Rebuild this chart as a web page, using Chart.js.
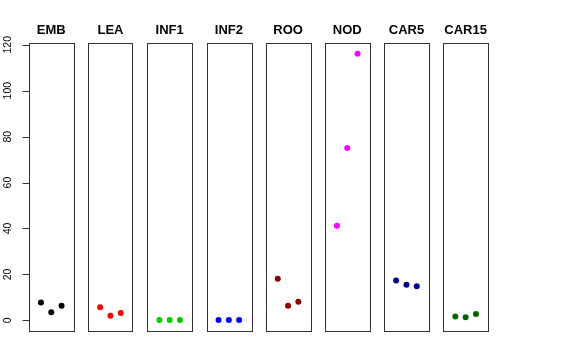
<!DOCTYPE html>
<html>
<head>
<meta charset="utf-8">
<script src="https://cdn.jsdelivr.net/npm/chart.js@4.4.1/dist/chart.umd.min.js"></script>
<style>
  html, body { margin: 0; padding: 0; background: #fff; }
  #wrap { position: relative; width: 576px; height: 360px; }
  #wrap canvas { position: absolute; left: 0; top: 0; }
</style>
</head>
<body>
<div id="wrap"></div>
<script>
// tissue groups, three replicates each
const categories = ['EMB', 'LEA', 'INF1', 'INF2', 'ROO', 'NOD', 'CAR5', 'CAR15'];
const replicates = [1, 2, 3];
const emb = [7.8, 3.5, 6.4];
const lea = [5.7, 2.0, 3.2];
const inf1 = [0.1, 0.1, 0.1];
const inf2 = [0.1, 0.1, 0.1];
const roo = [18.1, 6.4, 8.1];
const nod = [41.2, 75.0, 116.1];
const car5 = [17.4, 15.5, 14.8];
const car15 = [1.7, 1.3, 2.8];
const yTicks = [0, 20, 40, 60, 80, 100, 120];

const seriesValues = [emb, lea, inf1, inf2, roo, nod, car5, car15];
const colors = ['#000000', '#ff0000', '#00cd00', '#0000ff', '#8b0000', '#ff00ff', '#00008b', '#006400'];

// panel layout (px)
const W = 576, H = 360;
const firstLeft = 29, step = 59.2, panelW = 44.5;
const panelTop = 43.3, panelBottom = 331;

// R style 4% padding around data
const yMin = -4.64, yMax = 120.64;
const xMin = -0.16, xMax = 4.16;

const wrap = document.getElementById('wrap');

const boxPlugin = {
  id: 'box',
  afterDraw(chart) {
    const a = chart.chartArea;
    const ctx = chart.ctx;
    ctx.save();
    ctx.strokeStyle = '#333';
    ctx.lineWidth = 1;
    ctx.strokeRect(Math.round(a.left) + 0.5, Math.round(a.top) + 0.5,
      Math.round(a.right - a.left), Math.round(a.bottom - a.top));
    // panel title
    ctx.fillStyle = '#000';
    ctx.font = 'bold 13px "Liberation Sans", Arial, sans-serif';
    ctx.textAlign = 'center';
    ctx.textBaseline = 'alphabetic';
    ctx.fillText(chart.options.plugins.panelTitle, (a.left + a.right) / 2, 34);
    ctx.restore();
  }
};

// y axis with rotated labels, only on the first panel
const yAxisPlugin = {
  id: 'yaxis',
  afterDraw(chart) {
    if (!chart.options.plugins.showY) return;
    const y = chart.scales.y;
    const x0 = Math.round(chart.chartArea.left) + 0.5;
    const ctx = chart.ctx;
    ctx.save();
    ctx.strokeStyle = '#333';
    ctx.lineWidth = 1;
    ctx.beginPath();
    ctx.moveTo(x0, y.getPixelForValue(yTicks[0]));
    ctx.lineTo(x0, y.getPixelForValue(yTicks[yTicks.length - 1]));
    yTicks.forEach(t => {
      const py = Math.round(y.getPixelForValue(t)) + 0.5;
      ctx.moveTo(x0, py);
      ctx.lineTo(x0 - 7, py);
    });
    ctx.stroke();
    ctx.fillStyle = '#000';
    ctx.font = '10.5px "Liberation Sans", Arial, sans-serif';
    ctx.textAlign = 'center';
    ctx.textBaseline = 'middle';
    yTicks.forEach(t => {
      ctx.save();
      ctx.translate(8, y.getPixelForValue(t));
      ctx.rotate(-Math.PI / 2);
      ctx.fillText(String(t), 0, 0);
      ctx.restore();
    });
    ctx.restore();
  }
};

categories.forEach((name, i) => {
  const canvas = document.createElement('canvas');
  canvas.width = W;
  canvas.height = H;
  wrap.appendChild(canvas);

  const left = firstLeft + step * i;
  const vals = seriesValues[i];

  new Chart(canvas, {
    type: 'scatter',
    data: {
      datasets: [{
        data: replicates.map((r, j) => ({ x: r, y: vals[j] })),
        backgroundColor: colors[i],
        borderWidth: 0,
        pointRadius: 3,
        pointHoverRadius: 3
      }]
    },
    options: {
      responsive: false,
      animation: false,
      events: [],
      layout: {
        padding: { left: left, right: W - left - panelW, top: panelTop, bottom: H - panelBottom }
      },
      scales: {
        x: { type: 'linear', min: xMin, max: xMax, display: false },
        y: { type: 'linear', min: yMin, max: yMax, display: false }
      },
      plugins: {
        legend: { display: false },
        tooltip: { enabled: false },
        panelTitle: name,
        showY: i === 0
      }
    },
    plugins: [boxPlugin, yAxisPlugin]
  });
});
</script>
</body>
</html>
